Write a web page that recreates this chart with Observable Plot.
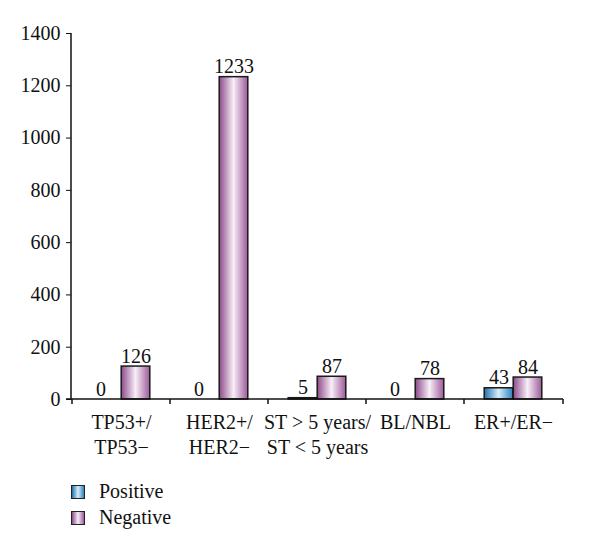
<!DOCTYPE html>
<html><head><meta charset="utf-8">
<script src="https://cdn.jsdelivr.net/npm/d3@7"></script>
<script src="https://cdn.jsdelivr.net/npm/@observablehq/plot@0.6"></script>
<style>
body{margin:0;background:#fff;font-family:"Liberation Serif","DejaVu Serif",serif;}
#chart svg text{font-size:20px !important;}
#legend{position:relative;height:90px;}
.li{position:absolute;left:71px;display:flex;align-items:center;font-size:20px;color:#111;}
.sw{width:14px;height:14px;border:1px solid #222;box-sizing:border-box;margin-right:14px;}
</style>
</head><body>
<div id="chart"></div>
<div id="legend"></div>
<script>
const categories = ["TP53+/\nTP53−", "HER2+/\nHER2−", "ST > 5 years/\nST < 5 years", "BL/NBL", "ER+/ER−"];
const series = ["Positive", "Negative"];
const positive = [0, 0, 5, 0, 43];
const negative = [126, 1233, 87, 78, 84];
const yTicks = [0, 200, 400, 600, 800, 1000, 1200, 1400];

const rows = [];
categories.forEach((c, i) => {
  rows.push({category: c, series: "Positive", value: positive[i]});
  rows.push({category: c, series: "Negative", value: negative[i]});
});

const W = 600, ML = 71, MR = 37;
const step = (W - ML - MR) / categories.length;
const barW = 29;
const fills = {Positive: "url(#gPos)", Negative: "url(#gNeg)"};
const grad = {
  Positive: ["#1f6fae", "#d7eef9", "#2c82c0"],
  Negative: ["#8c4a89", "#f8eef7", "#9d5a9a"]
};
const FS = 20;

function barsFor(s) {
  const left = s === "Positive" ? step / 2 - barW : step / 2;
  return Plot.barY(rows.filter(d => d.series === s && d.value > 0), {
    x: "category", y: "value", fill: fills[s], stroke: "#1a1a1a", strokeWidth: 1.5,
    insetLeft: left, insetRight: step - left - barW
  });
}
function labelsFor(s) {
  const dx = s === "Positive" ? -barW / 2 : barW / 2;
  return [
    Plot.text(rows.filter(d => d.series === s && d.value > 0), {
      x: "category", y: "value", text: d => String(d.value), dx, dy: -4, lineAnchor: "bottom", fontSize: FS, fill: "#111"
    }),
    Plot.text(rows.filter(d => d.series === s && d.value === 0), {
      x: "category", y: "value", text: d => String(d.value), dx: dx - 6, dy: -4, lineAnchor: "bottom", fontSize: FS, fill: "#111"
    })
  ];
}

const defsMark = () => {
  const svg = d3.create("svg:defs");
  series.forEach(s => {
    const lg = svg.append("linearGradient").attr("id", s === "Positive" ? "gPos" : "gNeg")
      .attr("x1", 0).attr("x2", 1).attr("y1", 0).attr("y2", 0);
    grad[s].forEach((c, i) => lg.append("stop").attr("offset", i / 2).attr("stop-color", c));
  });
  return svg.node();
};

const chart = Plot.plot({
  width: W, height: 460,
  marginLeft: ML, marginRight: MR, marginTop: 33, marginBottom: 61,
  style: {fontFamily: '"Liberation Serif","DejaVu Serif",serif', fontSize: FS + "px", color: "#111", background: "#fff"},
  x: {domain: categories, paddingInner: 0, paddingOuter: 0},
  y: {domain: [0, 1400]},
  marks: [
    defsMark,
    barsFor("Positive"), barsFor("Negative"),
    ...labelsFor("Positive"), ...labelsFor("Negative"),
    Plot.axisY({ticks: yTicks, tickSize: 5, tickPadding: 6, label: null, fontSize: FS, tickFormat: d => String(d)}),
    Plot.axisX({tickSize: 0, tickPadding: 12, label: null, fontSize: FS, lineHeight: 1.25}),
    (index, scales, values, dims) => {
      const g = d3.create("svg:g").attr("stroke", "#111").attr("stroke-width", 1.5);
      const x0 = dims.marginLeft, x1 = dims.width - dims.marginRight;
      const yb = scales.y(0), yt = scales.y(1400);
      g.append("line").attr("x1", x0).attr("x2", x0).attr("y1", yt).attr("y2", yb);
      g.append("line").attr("x1", x0 - 5).attr("x2", x1).attr("y1", yb).attr("y2", yb);
      const xs = categories.map(c => scales.x(c)).concat([x1]);
      xs.forEach(x => g.append("line").attr("x1", x).attr("x2", x).attr("y1", yb).attr("y2", yb + 5));
      return g.node();
    }
  ]
});
document.getElementById("chart").appendChild(chart);

const legend = document.getElementById("legend");
series.forEach((s, i) => {
  const item = document.createElement("div");
  item.className = "li";
  item.style.top = (20 + i * 26) + "px";
  const sw = document.createElement("div");
  sw.className = "sw";
  sw.style.background = "linear-gradient(to right," + grad[s].join(",") + ")";
  item.appendChild(sw);
  const t = document.createElement("span");
  t.textContent = s;
  item.appendChild(t);
  legend.appendChild(item);
});
</script>
</body></html>
